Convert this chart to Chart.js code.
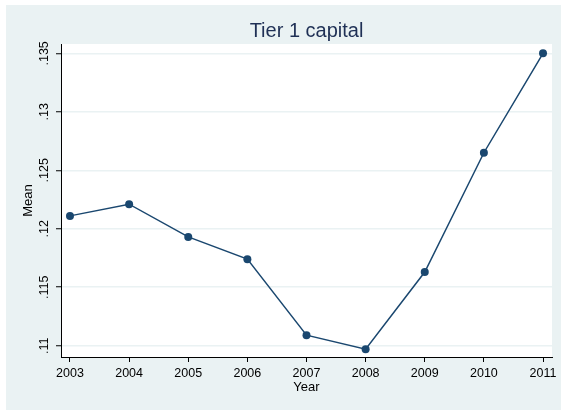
<!DOCTYPE html>
<html><head><meta charset="utf-8">
<script src="https://cdn.jsdelivr.net/npm/chart.js@4"></script>
<style>html,body{margin:0;padding:0;background:#fff;}#wrap{width:561px;height:411px;}</style>
</head><body><div id="wrap"><canvas id="c" width="561" height="411"></canvas></div>
<script>
const years = [2003, 2004, 2005, 2006, 2007, 2008, 2009, 2010, 2011];
const meanTier1 = [0.1211, 0.1221, 0.1193, 0.1174, 0.1109, 0.1097, 0.1163, 0.1265, 0.1350];
const xTicks = [2003, 2004, 2005, 2006, 2007, 2008, 2009, 2010, 2011];
const yTicks = [0.11, 0.115, 0.12, 0.125, 0.13, 0.135];
const yTickLabels = ['.11', '.115', '.12', '.125', '.13', '.135'];
const titleText = 'Tier 1 capital';
const xTitle = 'Year';
const yTitle = 'Mean';

const FONT = '"Liberation Sans", Arial, sans-serif';
const PANEL = '#eaf2f3';
const NAVY = '#1a476f';

const bgPlugin = {
  id: 'bg',
  beforeDraw(chart) {
    const {ctx, chartArea: a} = chart;
    ctx.save();
    ctx.fillStyle = '#ffffff';
    ctx.fillRect(0, 0, chart.width, chart.height);
    ctx.fillStyle = PANEL;
    ctx.fillRect(6, 5, 555, 405);
    ctx.fillStyle = '#ffffff';
    ctx.fillRect(a.left, a.top, a.right - a.left, a.bottom - a.top);
    ctx.restore();
  }
};

new Chart(document.getElementById('c'), {
  type: 'line',
  data: {
    datasets: [{
      label: yTitle,
      data: years.map((y, i) => ({x: y, y: meanTier1[i]})),
      borderColor: NAVY,
      backgroundColor: NAVY,
      borderWidth: 1.5,
      pointRadius: 4,
      pointBackgroundColor: NAVY,
      pointBorderColor: NAVY,
      pointBorderWidth: 0,
      tension: 0,
      clip: false
    }]
  },
  options: {
    responsive: false,
    animation: false,
    devicePixelRatio: 1,
    layout: {padding: {left: 6, top: 5, right: 9, bottom: 0}},
    plugins: {
      legend: {display: false},
      tooltip: {enabled: false},
      title: {
        display: true,
        text: titleText,
        fullSize: false,
        color: '#1f3055',
        font: {family: FONT, size: 20, weight: 'normal', lineHeight: 1.2},
        padding: {top: 14, bottom: 1}
      }
    },
    scales: {
      x: {
        type: 'linear',
        min: 2002.848,
        max: 2011.152,
        afterBuildTicks: s => { s.ticks = xTicks.map(v => ({value: v})); },
        afterFit: s => { s.height = 54; },
        ticks: {
          color: '#000',
          font: {family: FONT, size: 12.5},
          padding: 4,
          maxRotation: 0,
          callback: v => String(v)
        },
        grid: {drawOnChartArea: false, drawTicks: true, tickLength: 5, tickColor: '#000', tickWidth: 1},
        border: {display: true, color: '#000', width: 1},
        title: {display: true, text: xTitle, color: '#000', font: {family: FONT, size: 13}, padding: {top: 0, bottom: 16.2}}
      },
      y: {
        type: 'linear',
        min: 0.10903,
        max: 0.1358,
        afterBuildTicks: s => { s.ticks = yTicks.map(v => ({value: v})); },
        afterFit: s => { s.width = 55; },
        ticks: {
          color: '#000',
          font: {family: FONT, size: 12.5},
          minRotation: 90,
          maxRotation: 90,
          crossAlign: 'center',
          padding: -1.2,
          callback: (v, i) => yTickLabels[i]
        },
        grid: {color: PANEL, lineWidth: 1.5, drawTicks: true, tickLength: 5, tickColor: '#000', tickWidth: 1},
        border: {display: true, color: '#000', width: 1},
        title: {display: true, text: yTitle, color: '#000', font: {family: FONT, size: 13}, padding: {top: 14.5, bottom: 0}}
      }
    }
  },
  plugins: [bgPlugin]
});
</script>
</body></html>
